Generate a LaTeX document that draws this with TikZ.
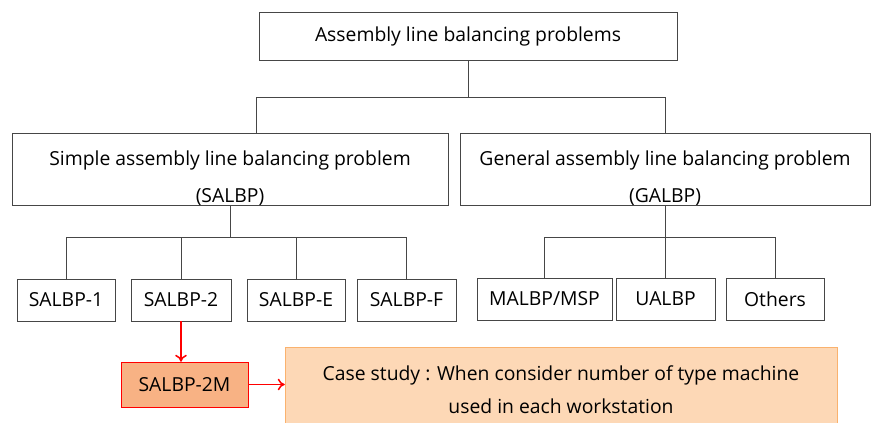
\documentclass[tikz,border=0pt]{standalone}
\usepackage{fontspec}
\setmainfont{Open Sans}
\usetikzlibrary{arrows.meta}
\definecolor{linegray}{RGB}{70,70,70}
\definecolor{mfill}{RGB}{248,178,132}
\definecolor{casefill}{RGB}{253,216,182}
\definecolor{caseline}{RGB}{250,178,110}
\newcommand{\lowstrut}{\rule{0pt}{28pt}}
\begin{document}
\begin{tikzpicture}[x = 0.03cm, y = -0.03cm,
	box/.style = {draw = linegray, fill = white, inner sep = 0pt, align = center, font = \fontsize{16.5}{31}\selectfont},
	bigbox/.style = {box, minimum height = 2.1cm},
	tree/.style = {draw = linegray, line width = 0.8pt},
	redarrow/.style = {draw = red, line width = 1.3pt, -{To[length = 6pt, width = 10pt]}}]
		\useasboundingbox (0, 0) rectangle (871, 423);
		% Boxes
		\node[box, minimum width = 12.54cm, minimum height = 1.44cm] (alb) at (468, 36) {Assembly line balancing problems};
		\node[bigbox, minimum width = 13.08cm] (salbp) at (230, 169) {\lowstrut Simple assembly line balancing problem\\(SALBP)};
		\node[bigbox, minimum width = 12.3cm] (galbp) at (665, 169) {\lowstrut General assembly line balancing problem\\(GALBP)};
		\node[box, minimum width = 2.94cm, minimum height = 1.26cm] (s1) at (66, 300) {SALBP-1};
		\node[box, minimum width = 3cm, minimum height = 1.26cm] (s2) at (181, 300) {SALBP-2};
		\node[box, minimum width = 2.94cm, minimum height = 1.26cm] (se) at (296, 300) {SALBP-E};
		\node[box, minimum width = 2.97cm, minimum height = 1.26cm] (sf) at (406.5, 300) {SALBP-F};
		\node[box, minimum width = 4.05cm, minimum height = 1.26cm] (malbp) at (544.5, 299) {MALBP/MSP};
		\node[box, minimum width = 2.97cm, minimum height = 1.26cm] (ualbp) at (665.5, 299) {UALBP};
		\node[box, minimum width = 2.94cm, minimum height = 1.26cm] (others) at (775, 299) {Others};
		\node[box, draw = red, fill = mfill, minimum width = 3.81cm, minimum height = 1.35cm] (s2m) at (184.5, 384.5) {SALBP-2M};
		\node[box, draw = caseline, fill = casefill, minimum width = 16.56cm, minimum height = 2.55cm, font = \fontsize{16.5}{28}\selectfont] (case) at (561, 389.5) {Case study : When consider number of type machine\\used in each workstation};
		% Tree
		\draw[tree] (alb.south) -- ++(0, 37) coordinate (fork1);
		\draw[tree] (fork1) -| ([xshift = 0.78cm]salbp.north);
		\draw[tree] (fork1) -| (galbp.north);
		\draw[tree] (salbp.south) -- ++(0, 32) coordinate (fork2);
		\draw[tree] (fork2) -| (s1.north);
		\draw[tree] (fork2) -| (s2.north);
		\draw[tree] (fork2) -| (se.north);
		\draw[tree] (fork2) -| (sf.north);
		\draw[tree] (galbp.south) -- ++(0, 32) coordinate (fork3);
		\draw[tree] (fork3) -| (malbp.north);
		\draw[tree] (fork3) -| (ualbp.north);
		\draw[tree] (fork3) -| (others.north);
		% Red arrows
		\draw[redarrow] (s2.south) -- (s2 |- s2m.north);
		\draw[redarrow] (s2m.east) -- (case.west |- s2m.east);
\end{tikzpicture}
\end{document}
